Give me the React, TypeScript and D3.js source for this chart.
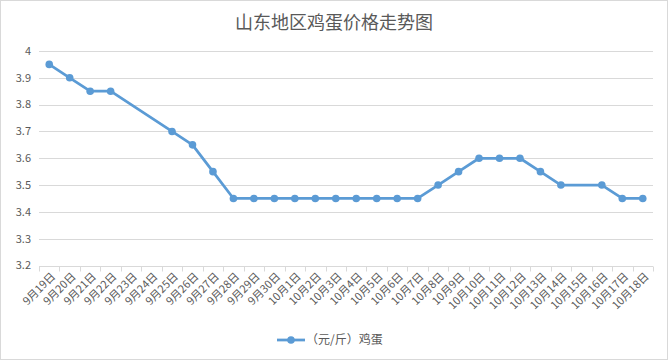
import React from "react";
import * as d3 from "d3";

const categories = [
  "9月19日","9月20日","9月21日","9月22日","9月23日","9月24日","9月25日","9月26日","9月27日","9月28日",
  "9月29日","9月30日","10月1日","10月2日","10月3日","10月4日","10月5日","10月6日","10月7日","10月8日",
  "10月9日","10月10日","10月11日","10月12日","10月13日","10月14日","10月15日","10月16日","10月17日","10月18日",
];
const eggPrices: (number | null)[] = [
  3.95, 3.9, 3.85, 3.85, null, null, 3.7, 3.65, 3.55, 3.45,
  3.45, 3.45, 3.45, 3.45, 3.45, 3.45, 3.45, 3.45, 3.45, 3.5,
  3.55, 3.6, 3.6, 3.6, 3.55, 3.5, null, 3.5, 3.45, 3.45,
];
const yTicks = [3.2, 3.3, 3.4, 3.5, 3.6, 3.7, 3.8, 3.9, 4];
const title = "山东地区鸡蛋价格走势图";
const seriesName = "（元/斤）鸡蛋";

const W = 668, H = 360;
const left = 39, right = 653, top = 51, bottom = 265.5;
const FONT = "'Noto Sans CJK SC', 'Noto Sans', sans-serif";
const TXT = "#595959";
const BLUE = "#5b9bd5";

export default function App() {
  const x = d3.scaleBand<string>().domain(categories).range([left, right]).padding(0);
  const y = d3.scaleLinear().domain([3.2, 4]).range([bottom, top]);
  const cx = (c: string) => (x(c) as number) + x.bandwidth() / 2;
  const pts = categories
    .map((c, i) => ({ c, v: eggPrices[i] }))
    .filter((d) => d.v !== null) as { c: string; v: number }[];
  const line = d3.line<{ c: string; v: number }>().x((d) => cx(d.c)).y((d) => y(d.v));

  return (
    <div style={{ position: "fixed", left: 0, top: 0 }}>
      <svg width={W} height={H} style={{ display: "block" }} fontFamily={FONT}>
        <rect x={0.5} y={0.5} width={W - 1} height={H - 1} fill="#fff" stroke="#d9d9d9" />
        <text x={W / 2} y={29} textAnchor="middle" fontSize={18} fill={TXT}>{title}</text>
        {yTicks.map((t) => (
          <g key={t}>
            <line x1={left} x2={right} y1={Math.round(y(t)) + 0.5} y2={Math.round(y(t)) + 0.5} stroke="#d9d9d9" />
            <text x={31} y={y(t)} dy="0.35em" textAnchor="end" fontSize={11} fill={TXT}>{t}</text>
          </g>
        ))}
        {d3.range(categories.length + 1).map((i) => {
          const xx = Math.round(left + i * x.bandwidth()) + 0.5;
          return <line key={i} x1={xx} x2={xx} y1={Math.round(bottom) + 0.5} y2={Math.round(bottom) + 5.5} stroke="#d9d9d9" />;
        })}
        {categories.map((c) => (
          <text key={c} transform={`translate(${cx(c) + 4},${bottom + 9}) rotate(-45)`} textAnchor="end" dy="0.35em" fontSize={11} fill={TXT}>{c}</text>
        ))}
        <path d={line(pts) as string} fill="none" stroke={BLUE} strokeWidth={2.75} strokeLinejoin="round" />
        {pts.map((d) => (
          <circle key={d.c} cx={cx(d.c)} cy={y(d.v)} r={3.8} fill={BLUE} />
        ))}
        <line x1={277} x2={305} y1={340} y2={340} stroke={BLUE} strokeWidth={2.75} />
        <circle cx={291} cy={340} r={3.8} fill={BLUE} />
        <text x={306} y={340} dy="0.35em" fontSize={12} fill={TXT}>{seriesName}</text>
      </svg>
    </div>
  );
}
